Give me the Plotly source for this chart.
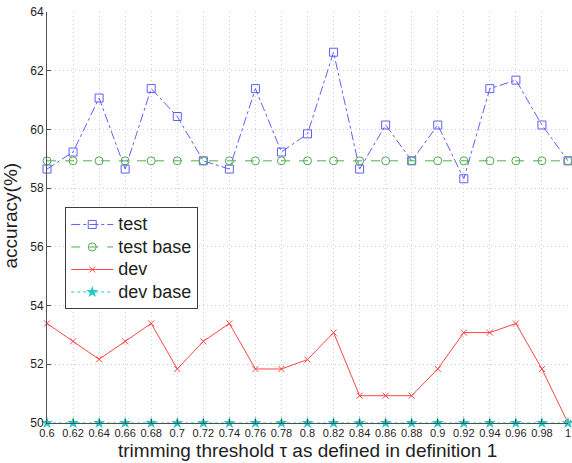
import plotly.graph_objects as go

tau = [0.6, 0.62, 0.64, 0.66, 0.68, 0.7, 0.72, 0.74, 0.76, 0.78, 0.8,
       0.82, 0.84, 0.86, 0.88, 0.9, 0.92, 0.94, 0.96, 0.98, 1.0]
tick_labels = ["0.6", "0.62", "0.64", "0.66", "0.68", "0.7", "0.72", "0.74", "0.76", "0.78", "0.8",
               "0.82", "0.84", "0.86", "0.88", "0.9", "0.92", "0.94", "0.96", "0.98", "1"]
y_ticks = [50, 52, 54, 56, 58, 60, 62, 64]
test = [58.65, 59.23, 61.07, 58.65, 61.39, 60.44, 58.93, 58.65, 61.39, 59.23, 59.85,
        62.63, 58.65, 60.15, 58.93, 60.15, 58.32, 61.39, 61.68, 60.15, 58.93]
test_base = [58.93] * 21
dev = [53.39, 52.78, 52.17, 52.78, 53.39, 51.84, 52.78, 53.39, 51.84, 51.84, 52.16,
       53.08, 50.93, 50.93, 50.93, 51.84, 53.08, 53.08, 53.39, 51.84, 50.0]
dev_base = [50.0] * 21
series_names = ["test", "test base", "dev", "dev base"]

BLUE = "rgb(95,95,255)"
GREEN = "rgb(80,170,80)"
RED = "rgb(255,70,70)"
CYAN = "rgb(40,200,200)"


def lname(s):
    return '<span style="font-size:18px">' + s + '</span>'


fig = go.Figure()
fig.add_trace(go.Scatter(x=tau, y=test, name=lname(series_names[0]), mode="lines+markers",
                         line=dict(color=BLUE, width=1, dash="dashdot"),
                         marker=dict(symbol="square-open", size=8, color=BLUE, line=dict(width=1))))
fig.add_trace(go.Scatter(x=tau, y=test_base, name=lname(series_names[1]), mode="lines+markers",
                         line=dict(color=GREEN, width=1, dash="dash"),
                         marker=dict(symbol="circle-open", size=8, color=GREEN, line=dict(width=1))))
fig.add_trace(go.Scatter(x=tau, y=dev, name=lname(series_names[2]), mode="lines+markers",
                         line=dict(color=RED, width=1),
                         marker=dict(symbol="x-thin-open", size=6, color=RED, line=dict(width=1, color=RED))))
fig.add_trace(go.Scatter(x=tau, y=dev_base, name=lname(series_names[3]), mode="lines+markers",
                         line=dict(color=CYAN, width=1, dash="dot"),
                         marker=dict(symbol="star", size=9, color=CYAN, line=dict(width=0))))

grid = dict(showgrid=True, gridcolor="rgb(205,205,205)", griddash="1px,3px", gridwidth=1)

fig.update_layout(
    width=572, height=463,
    margin=dict(l=47, r=4, t=12, b=40, autoexpand=False),
    paper_bgcolor="white", plot_bgcolor="white",
    font=dict(family="Liberation Sans, Arial, sans-serif", color="rgb(30,30,30)"),
    showlegend=True,
    legend=dict(x=0.035, y=0.525, xanchor="left", yanchor="top",
                bordercolor="rgb(60,60,60)", borderwidth=1, bgcolor="white",
                font=dict(size=15), tracegroupgap=0, itemwidth=42),
    xaxis=dict(range=[0.6, 1.0], tickvals=tau, ticktext=tick_labels, automargin=False,
               tickfont=dict(size=11), ticks="inside", ticklen=4, tickcolor="rgb(80,80,80)",
               showline=True, linecolor="rgb(80,80,80)", linewidth=1, zeroline=False, **grid),
    yaxis=dict(range=[50, 64], tickvals=y_ticks, automargin=False,
               tickfont=dict(size=12), ticks="inside", ticklen=4, tickcolor="rgb(80,80,80)",
               showline=True, linecolor="rgb(80,80,80)", linewidth=1, zeroline=False, **grid),
    annotations=[
        dict(text="trimming threshold τ as defined in definition 1", xref="paper", yref="paper",
             x=0.5, y=-0.068, xanchor="center", yanchor="middle", showarrow=False,
             font=dict(size=19)),
        dict(text="accuracy(%)", xref="paper", yref="paper", textangle=-90,
             x=-0.071, y=0.505, xanchor="center", yanchor="middle", showarrow=False,
             font=dict(size=19)),
    ],
)
for tr in fig.data:
    tr.cliponaxis = False

fig.write_html("out.html", config={"displayModeBar": False},
               post_script="document.body.style.margin='0';document.body.style.overflow='hidden';")
